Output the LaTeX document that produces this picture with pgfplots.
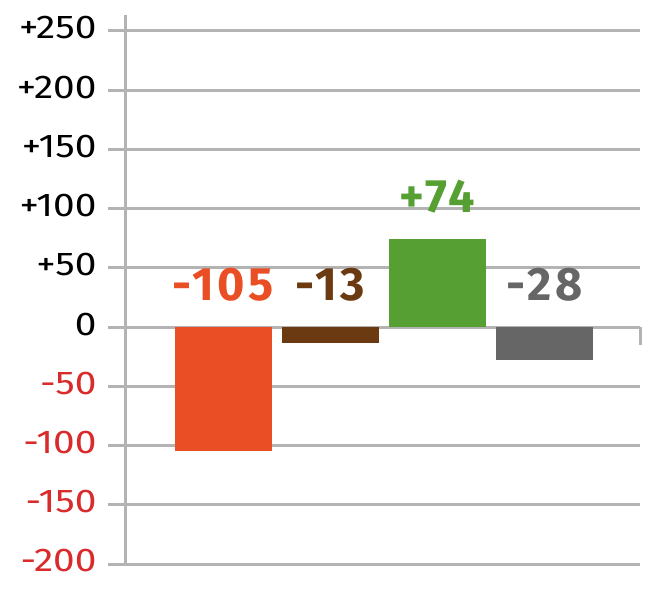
\documentclass[border=0pt]{standalone}
\usepackage{fontspec}
\setmainfont{Fira Sans}
\newfontfamily\tickfont[FakeStretch=1.18]{Fira Sans}
\newfontfamily\labfont[LetterSpace=8]{Fira Sans}
\usepackage{pgfplots}
\pgfplotsset{compat=1.18}
\usetikzlibrary{calc}
\definecolor{gridgray}{HTML}{B3B3B3}
\definecolor{negred}{HTML}{D92B2B}
\definecolor{c1}{HTML}{E94E24}
\definecolor{c2}{HTML}{6B3A11}
\definecolor{c3}{HTML}{56A033}
\definecolor{c4}{HTML}{666666}
\begin{document}
\begin{tikzpicture}
\begin{axis}[name=ax, scale only axis, width=514bp, height=549bp,
  xmin=-0.911, xmax=3.893, ymin=-200, ymax=263.5,
  axis x line=none, axis y line*=left,
  y axis line style={gridgray, line width=3bp, -},
  ytick={-200,-150,...,250},
  yticklabels={{\color{negred}-200},{\color{negred}-150},{\color{negred}-100},{\color{negred}-50},0,+50,+100,+150,+200,+250},
  ymajorgrids, grid style={gridgray, line width=3bp},
  tick align=outside, major tick length=18bp,
  ytick style={gridgray, line width=3bp},
  yticklabel style={font=\tickfont\fontsize{33}{36}\selectfont, anchor=east, xshift=-8bp, yshift=3bp},
  clip=false,
  ybar, bar width=0.906, bar shift=0pt]
\addplot[fill=c1, draw=none] coordinates {(0,-105)};
\addplot[fill=c2, draw=none] coordinates {(1,-13)};
\addplot[fill=c3, draw=none] coordinates {(2,74)};
\addplot[fill=c4, draw=none] coordinates {(3,-28)};
\draw[gridgray, line width=3bp] (axis cs:3.893,0) -- ([yshift=-18bp]axis cs:3.893,0);
\node[anchor=base, text=c1, font=\labfont\bfseries\fontsize{47}{50}\selectfont, yshift=27bp] at (axis cs:0,0) {-105};
\node[anchor=base, text=c2, font=\labfont\bfseries\fontsize{47}{50}\selectfont, yshift=27bp] at (axis cs:1,0) {-13};
\node[anchor=base, text=c3, font=\labfont\bfseries\fontsize{47}{50}\selectfont, yshift=27bp] at (axis cs:2,74) {+74};
\node[anchor=base, text=c4, font=\labfont\bfseries\fontsize{47}{50}\selectfont, yshift=27bp] at (axis cs:3,0) {-28};
\end{axis}
\pgfresetboundingbox
\path ($(ax.south west)+(-126bp,-38bp)$) rectangle ++(655bp,602bp);
\end{tikzpicture}
\end{document}
